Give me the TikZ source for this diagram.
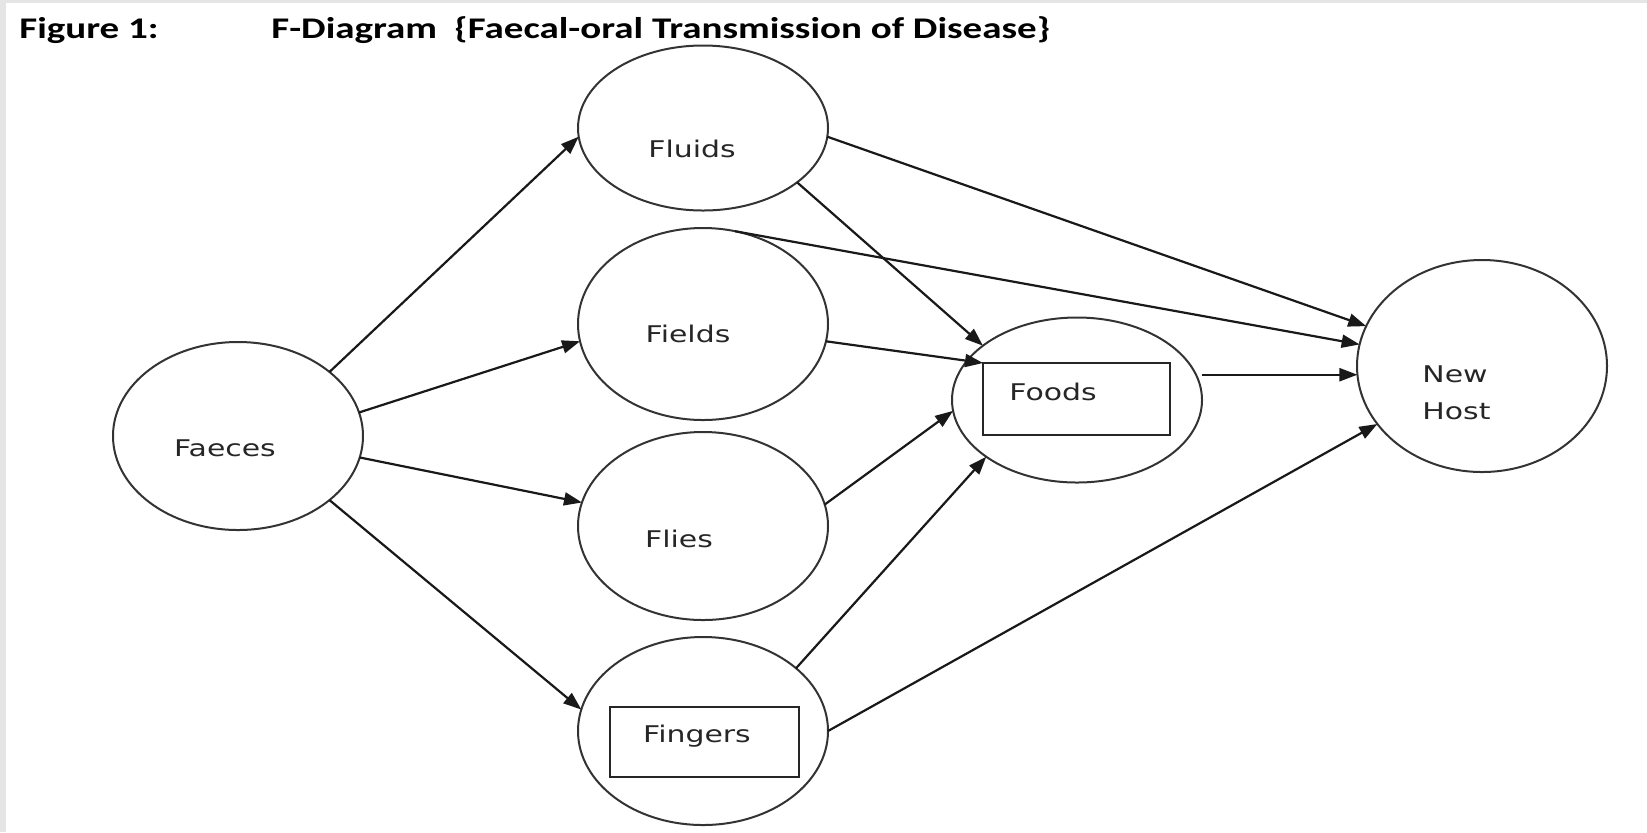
\documentclass[tikz,border=0pt]{standalone}
\usepackage{fontspec}
\setmainfont{Carlito}
\newfontfamily\ttlfont[FakeStretch=1.3]{Carlito}
\newfontfamily\handfont[FakeStretch=1.3]{DejaVu Sans}
\usetikzlibrary{arrows.meta,shapes.geometric}

\tikzset{
  blob/.style={ellipse, draw=black!80, line width=1pt, inner sep=0pt, outer sep=0pt, minimum width=125pt},
  box/.style={rectangle, draw=black!85, line width=1.4pt, inner sep=0pt, outer sep=0pt},
  lbl/.style={font=\handfont\fontsize{11.5}{18.5}\selectfont, text=black!85, inner sep=0pt, align=left},
  ttl/.style={font=\ttlfont\bfseries\fontsize{15}{17}\selectfont, inner sep=0pt, anchor=base west},
  arr/.style={-{Triangle[length=9pt,width=6.5pt]}, line width=1.1pt, draw=black!90},
}

\begin{document}
\begin{tikzpicture}[x=0.5pt,y=-0.5pt]
    \fill[gray!20] (0,0) rectangle (1647,832);
    \fill[white] (6,3) rectangle (1647,832);
    \useasboundingbox (0,0) rectangle (1647,832);

    % title line
    \node[ttl] (figno) at (19,38) {Figure 1:};
    \node[ttl] (figname) at (271,38) {F-Diagram};
    \node[ttl] (figsub) at (454,38) {\{Faecal-oral Transmission of Disease\}};

    % the seven F's
    \node[blob, minimum height=94pt] (faeces) at (238,436) {};
    \node[blob, minimum height=82.5pt] (fluids) at (703,128) {};
    \node[blob, minimum height=96pt] (fields) at (703,324) {};
    \node[blob, minimum height=94pt] (flies) at (703,526) {};
    \node[blob, minimum height=94pt] (fingers) at (703,731) {};
    \node[blob, minimum height=82.5pt] (foods) at (1077,400) {};
    \node[blob, minimum height=106pt] (newhost) at (1482,366) {};

    \node[box, minimum width=93.5pt, minimum height=36pt] (foodsbox) at (1076.5,399) {};
    \node[box, minimum width=94.5pt, minimum height=35pt] (fingersbox) at (704.5,742) {};

    \node[lbl, anchor=base] (faecestxt) at (225,456) {Faeces};
    \node[lbl, anchor=base] (fluidstxt) at (692,157) {Fluids};
    \node[lbl, anchor=base] (fieldstxt) at (688,342) {Fields};
    \node[lbl, anchor=base] (fliestxt) at (679,547) {Flies};
    \node[lbl, anchor=base] (fingerstxt) at (697,742) {Fingers};
    \node[lbl, anchor=base] (foodstxt) at (1053,400) {Foods};
    \node[lbl, anchor=north west] (hosttxt) at (1422,365) {New\\Host};

    % routes out of the faeces
    \foreach \to/\a/\b in {fluids/35/184, fields/11/188, flies/-10/169, fingers/-35/170}
    {
        \draw[arr] (faeces.\a) -- (\to.\b);
    }

    % routes on to the new host
    \draw[arr] (fluids.-4) -- (newhost.161);
    \draw[arr] (fluids.-30) -- (foods.150);
    \draw[arr] (fields.71) -- (newhost.170);
    \draw[arr] (fields.-8) -- (foodsbox.north west);
    \draw[arr] (foods.east |- newhost.184) -- (newhost.184);
    \draw[arr] (flies.10) -- (foods.185);
    \draw[arr] (fingers.34) -- (foods.212);
    \draw[arr] (fingers.east) -- (newhost.209);
\end{tikzpicture}
\end{document}
